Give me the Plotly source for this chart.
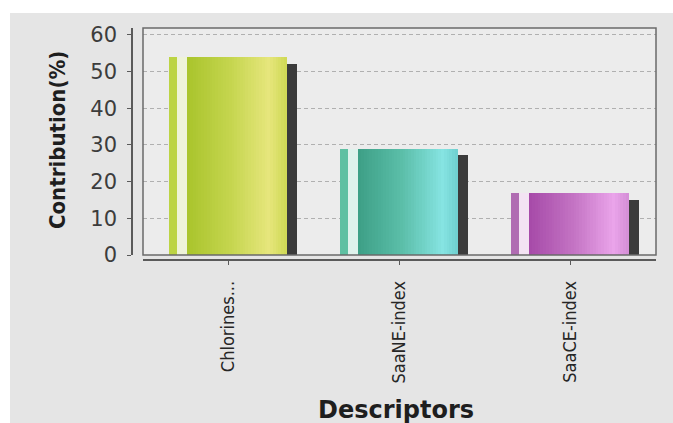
import plotly.graph_objects as go

# Descriptor contributions
descriptors = ["Chlorines...", "SaaNE-index", "SaaCE-index"]
contribution = [54.0, 29.0, 16.8]
y_ticks = [0, 10, 20, 30, 40, 50, 60]

# Colour stops (left -> right) for the shaded face of each bar
face_stops = [
    [(0.0, "#a9c42c"), (0.45, "#c6d650"), (0.82, "#e6e67c"), (1.0, "#cfd955")],
    [(0.0, "#3d9f86"), (0.45, "#5cbfaa"), (0.85, "#86e4e2"), (1.0, "#6fcfcf")],
    [(0.0, "#a64aa8"), (0.45, "#c474c4"), (0.85, "#eaa4ea"), (1.0, "#d48ed6")],
]
strip_colors = ["#bcd444", "#5fc0a2", "#b06cb2"]
gap_colors = ["#eef3d9", "#dff2ec", "#f3e3f3"]
shadow_color = "#3b3b3b"
depth = 1.8  # how far the dark side face sits below the bar top


def hex_to_rgb(h):
    h = h.lstrip("#")
    return tuple(int(h[i:i + 2], 16) for i in (0, 2, 4))


def blend(stops, t):
    for (t0, c0), (t1, c1) in zip(stops[:-1], stops[1:]):
        if t0 <= t <= t1:
            f = (t - t0) / (t1 - t0) if t1 > t0 else 0
            a, b = hex_to_rgb(c0), hex_to_rgb(c1)
            return "rgb(%d,%d,%d)" % tuple(round(a[i] + (b[i] - a[i]) * f) for i in range(3))
    return stops[-1][1]


fig = go.Figure()

# dark side face
fig.add_trace(go.Bar(
    x=descriptors, y=[v - depth for v in contribution],
    offset=0.335, width=0.065, marker=dict(color=shadow_color, line=dict(width=0)),
))
# narrow front strip and pale highlight gap
fig.add_trace(go.Bar(
    x=descriptors, y=contribution, offset=-0.35, width=0.05,
    marker=dict(color=strip_colors, line=dict(width=0)),
))
fig.add_trace(go.Bar(
    x=descriptors, y=contribution, offset=-0.30, width=0.06,
    marker=dict(color=gap_colors, line=dict(width=0)),
))
# main face drawn as thin slices for a horizontal gradient
n_slices = 36
face_left, face_width = -0.24, 0.58
step = face_width / n_slices
for k in range(n_slices):
    t = (k + 0.5) / n_slices
    fig.add_trace(go.Bar(
        x=descriptors, y=contribution,
        offset=face_left + k * step, width=step * 1.15,
        marker=dict(color=[blend(s, t) for s in face_stops], line=dict(width=0)),
    ))

W, H = 673, 423
ml, mr, mt, mb = 132, 17, 28, 163
pw, ph = W - ml - mr, H - mt - mb


def px_x(p):
    return (p - ml) / pw


def px_y(p):
    return (H - mb - p) / ph


fig.update_layout(
    width=W, height=H,
    margin=dict(l=ml, r=mr, t=mt, b=mb, pad=0),
    barmode="overlay", bargap=0, showlegend=False,
    paper_bgcolor="#e5e5e5", plot_bgcolor="#ececec",
    font=dict(family="DejaVu Sans", color="#3a3a3a"),
    xaxis=dict(
        domain=[px_x(143), 1], anchor="free", position=0,
        showline=True, linecolor="#5a5a5a", linewidth=1.5,
        ticks="outside", ticklen=4, tickcolor="#5a5a5a",
        tickangle=-90, ticklabelstandoff=9,
        tickfont=dict(family="DejaVu Sans Condensed", size=18, color="#262626"),
        showgrid=False, zeroline=False,
    ),
    yaxis=dict(
        domain=[px_y(255), 1], anchor="free", position=0,
        range=[0, 61.9], tickvals=y_ticks,
        showline=True, linecolor="#5a5a5a", linewidth=1.5,
        ticks="outside", ticklen=4, tickcolor="#5a5a5a",
        ticklabelstandoff=6,
        tickfont=dict(family="DejaVu Sans", size=21, color="#3c3c3c"),
        showgrid=True, gridcolor="#b0b0b0", griddash="4px,3px", gridwidth=1,
        zeroline=False,
    ),
    shapes=[
        # plot frame
        dict(type="rect", xref="x domain", yref="y domain", x0=0, x1=1, y0=0, y1=1,
             line=dict(color="#6a6a6a", width=1.5), layer="above"),
        # white page edge along the top and left
        dict(type="rect", xref="paper", yref="paper",
             x0=px_x(0), x1=px_x(W), y0=px_y(13), y1=px_y(0),
             fillcolor="white", line=dict(width=0)),
        dict(type="rect", xref="paper", yref="paper",
             x0=px_x(0), x1=px_x(10), y0=px_y(H), y1=px_y(0),
             fillcolor="white", line=dict(width=0)),
    ],
    annotations=[
        dict(text="<b>Contribution(%)</b>", xref="paper", yref="paper",
             x=px_x(57), y=px_y(140), textangle=-90, showarrow=False,
             xanchor="center", yanchor="middle",
             font=dict(family="DejaVu Sans Condensed", size=22, color="#1e1e1e")),
        dict(text="<b>Descriptors</b>", xref="paper", yref="paper",
             x=px_x(396), y=px_y(410), showarrow=False,
             xanchor="center", yanchor="middle",
             font=dict(family="DejaVu Sans", size=24, color="#1e1e1e")),
    ],
)

fig.write_html("out.html")
